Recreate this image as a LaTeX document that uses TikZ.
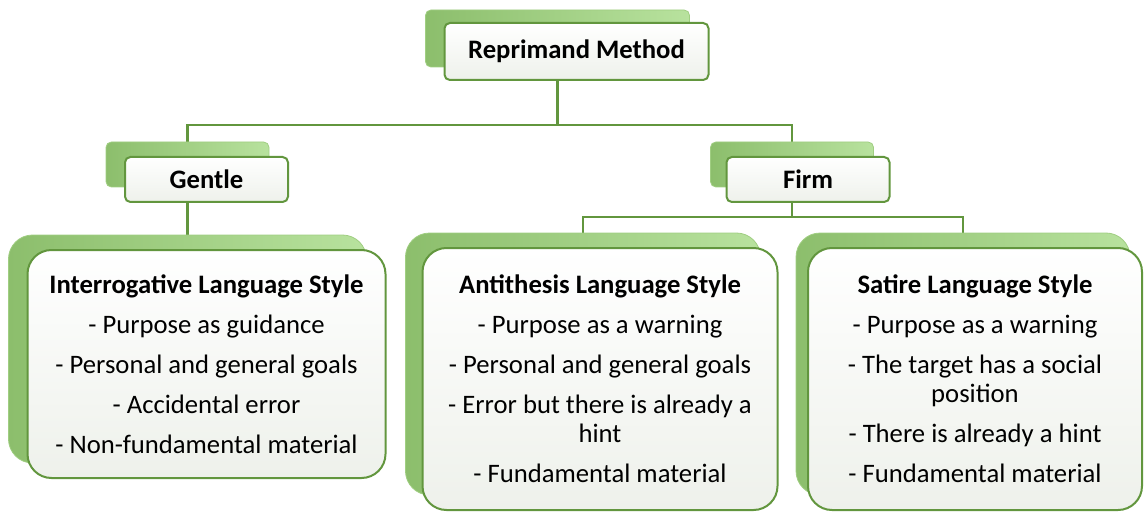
\documentclass[tikz,border=0pt]{standalone}
\usepackage{fontspec}
\setmainfont{Carlito}
\usetikzlibrary{positioning,backgrounds}

\definecolor{lineGreen}{RGB}{98,150,62}
\definecolor{backDark}{RGB}{140,190,108}
\definecolor{backLight}{RGB}{184,226,158}
\definecolor{backEdge}{RGB}{160,206,130}
\definecolor{faceLow}{RGB}{238,241,235}

\tikzset{
  backBox/.style={draw=backEdge, line width=0.6pt, left color=backDark, right color=backLight, inner sep=0pt},
  frontBox/.style={draw=lineGreen, line width=1.5pt, top color=white, bottom color=faceLow, inner sep=0pt, align=center,
    font=\fontsize{20}{21.75}\selectfont},
  smallBox/.style={minimum width=122.25pt, minimum height=33.75pt, rounded corners=4pt},
  headBox/.style={minimum width=198pt, minimum height=42.75pt, rounded corners=4pt},
  bigBox/.style={rounded corners=18pt},
  link/.style={draw=lineGreen, line width=1.8pt}
}

\begin{document}
\begin{tikzpicture}[x=0.75pt,y=0.75pt,yscale=-1,xscale=1]
\useasboundingbox (0,0) rectangle (1144,513);

%Shape: Head [id:reprimand]
\node [backBox, headBox] (rmB) at (557.5,38.5) {};
\node [frontBox, headBox] (rm) at ([shift={(19,13)}]rmB) {\textbf{Reprimand Method}};

%Shape: Gentle / Firm
\node [backBox, smallBox] (gentleB) at (187.5,164.5) {};
\node [frontBox, smallBox] (gentle) at ([shift={(19,15)}]gentleB) {\textbf{Gentle}};
\node [backBox, smallBox] (firmB) at (792,164.5) {};
\node [frontBox, smallBox] (firm) at ([shift={(16,15)}]firmB) {\textbf{Firm}};

%Shape: Interrogative
\node [backBox, bigBox, minimum width=268.5pt, minimum height=171pt] (interB) at (187.5,349) {};
\node [frontBox, bigBox, minimum width=268.5pt, minimum height=171pt] (inter) at ([shift={(19,15)}]interB)
  {\textbf{Interrogative Language Style}\\[8.25pt]
   - Purpose as guidance\\[8.25pt]
   - Personal and general goals\\[8.25pt]
   - Accidental error\\[8.25pt]
   - Non-fundamental material};

%Shape: Antithesis
\node [backBox, bigBox, minimum width=266.25pt, minimum height=196.5pt] (antiB) at (583,364) {};
\node [frontBox, bigBox, minimum width=266.25pt, minimum height=196.5pt] (anti) at ([shift={(17,15)}]antiB)
  {\textbf{Antithesis Language Style}\\[8.25pt]
   - Purpose as a warning\\[8.25pt]
   - Personal and general goals\\[8.25pt]
   - Error but there is already a\\
   hint\\[8.25pt]
   - Fundamental material};

%Shape: Satire
\node [backBox, bigBox, minimum width=250.5pt, minimum height=196.5pt] (satB) at (963,364) {};
\node [frontBox, bigBox, minimum width=250.5pt, minimum height=196.5pt] (sat) at ([shift={(12,15)}]satB)
  {\textbf{Satire Language Style}\\[8.25pt]
   - Purpose as a warning\\[8.25pt]
   - The target has a social\\
   position\\[8.25pt]
   - There is already a hint\\[8.25pt]
   - Fundamental material};

%Straight Lines [id:links]
\coordinate (busTop) at (557.5,125);
\coordinate (busFirm) at (792,217);
\begin{scope}[on background layer]
  \draw [link] (rmB.center) -- (busTop) -| (gentleB.north);
  \draw [link] (busTop) -| (firmB.north);
  \draw [link] (gentleB.center) -- (interB.north);
  \draw [link] (firmB.center) -- (busFirm) -| (antiB.north);
  \draw [link] (busFirm) -| (satB.north);
\end{scope}
\end{tikzpicture}
\end{document}
